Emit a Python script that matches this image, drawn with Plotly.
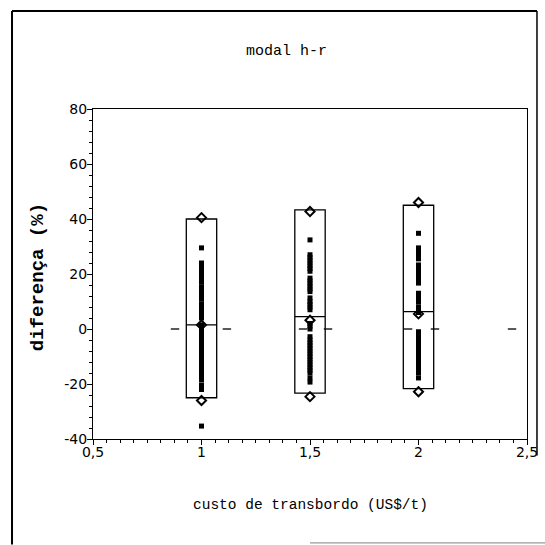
import plotly.graph_objects as go

# Transshipment cost (US$/t) for each group
custo = [1.0, 1.5, 2.0]

# Box limits per group (min..max) and medians, in %
box_low = [-25.0, -23.3, -21.7]
box_high = [40.0, 43.3, 45.0]
box_median = [1.5, 4.5, 6.3]

# Individual differences (%) per group
dif_1 = [29.5, 24, 23, 22, 21, 20, 19, 18, 17, 15.3, 14, 13, 12, 10.8,
         9, 8, 7, 6, 5, 4, 1.5, 0.5, 0, -1, -2, -3, -4, -5, -6, -7, -8,
         -9, -10, -11, -12, -13, -14, -15, -16, -17, -18.5, -20.4, -22,
         -35.3]
dif_15 = [32.4, 27, 26, 25, 24, 23, 22, 21, 18.5, 17.5, 16.5, 15.5, 14.5,
          13.6, 11.3, 10, 9, 8, 7, 2, 1, 0, -2.8, -4, -5, -6, -7, -8, -9,
          -10, -11, -12, -13, -14, -15, -16, -17.8, -19.3]
dif_2 = [34.8, 29.5, 28.5, 27.5, 26.5, 25.5, 23.3, 22.3, 21.3, 20.3, 19.3,
         18.3, 17.3, 16.7, 13, 12, 11, 9.8, 8, 7, 6, -1, -2, -3, -4, -5,
         -6, -7, -8, -9, -10, -11, -12, -13, -14, -15, -16, -17.8]

# Extremes and central value marked with diamonds
diam_1 = [40.5, 1.5, -26.0]
diam_15 = [42.7, 3.2, -24.6]
diam_2 = [46.0, 5.5, -22.8]

# Short marks along the zero reference
zero_marks_x = [0.878, 1.117, 1.468, 1.583, 1.952, 2.076, 2.431]

y_tick_vals = [-40, -20, 0, 20, 40, 60, 80]
y_tick_text = ["-40", "-20", "0", "20", "40", "60", "80"]

groups = [(custo[0], dif_1, diam_1), (custo[1], dif_15, diam_15),
          (custo[2], dif_2, diam_2)]

fig = go.Figure()

fig.add_trace(go.Box(
    x=custo, q1=box_low, q3=box_high, median=box_median,
    lowerfence=box_low, upperfence=box_high,
    width=0.14, whiskerwidth=0, boxpoints=False,
    fillcolor="rgba(0,0,0,0)", line=dict(color="black", width=1.3),
    showlegend=False, hoverinfo="skip",
))

for xv, vals, dvals in groups:
    fig.add_trace(go.Scatter(
        x=[xv] * len(vals), y=vals, mode="markers",
        marker=dict(symbol="square", size=5, color="black"),
        showlegend=False,
    ))
    fig.add_trace(go.Scatter(
        x=[xv] * len(dvals), y=dvals, mode="markers",
        marker=dict(symbol="diamond-open", size=7, color="black",
                    line=dict(width=2, color="black")),
        showlegend=False,
    ))

fig.add_trace(go.Scatter(
    x=zero_marks_x, y=[0] * len(zero_marks_x), mode="markers",
    marker=dict(symbol="line-ew", size=6,
                line=dict(width=1.3, color="black")),
    showlegend=False,
))

tick_font = dict(family="DejaVu Sans", size=14, color="black")
mono = "Liberation Mono"

fig.update_layout(
    width=545, height=545,
    margin=dict(l=93, r=18, t=109, b=106),
    paper_bgcolor="white", plot_bgcolor="white",
    separators=", ",
    showlegend=False,
    xaxis=dict(
        range=[0.5, 2.5], tick0=0.5, dtick=0.5, automargin=False,
        showgrid=False, zeroline=False,
        showline=True, linecolor="black", linewidth=1.3, mirror=True,
        ticks="outside", ticklen=5, tickwidth=1.2, tickcolor="black",
        ticklabelstandoff=-5,
        minor=dict(dtick=0.0625, tick0=0.5, ticks="outside", ticklen=3,
                   tickwidth=1, tickcolor="black", showgrid=False),
        tickfont=tick_font,
    ),
    yaxis=dict(
        range=[-40, 80], tickvals=y_tick_vals, ticktext=y_tick_text,
        automargin=False,
        showgrid=False, zeroline=False,
        showline=True, linecolor="black", linewidth=1.3, mirror=True,
        ticks="outside", ticklen=5, tickwidth=1.2, tickcolor="black",
        ticklabelstandoff=-3,
        minor=dict(dtick=4, tick0=0, ticks="outside", ticklen=3,
                   tickwidth=1, tickcolor="black", showgrid=False),
        tickfont=tick_font,
    ),
    annotations=[
        dict(text="modal h-r", xref="paper", yref="paper",
             x=0.445, y=1.173, xanchor="center", yanchor="middle",
             showarrow=False,
             font=dict(family=mono, size=15, color="black")),
        dict(text="custo de transbordo (US$/t)", xref="paper",
             yref="paper", x=0.5, y=-0.2, xanchor="center",
             yanchor="middle", showarrow=False,
             font=dict(family=mono, size=14.5, color="black")),
        dict(text="<b>diferença (%)</b>", xref="paper", yref="paper",
             x=-0.127, y=0.49, xanchor="center", yanchor="middle",
             showarrow=False, textangle=-90,
             font=dict(family=mono, size=19, color="black")),
    ],
    shapes=[
        # surrounding frame
        dict(type="line", xref="paper", yref="paper",
             x0=-0.1866, x1=-0.1866, y0=1.297, y1=-0.32,
             line=dict(color="black", width=2)),
        dict(type="line", xref="paper", yref="paper",
             x0=-0.1866, x1=1.023, y0=1.297, y1=1.297,
             line=dict(color="black", width=2)),
        dict(type="line", xref="paper", yref="paper",
             x0=1.023, x1=1.023, y0=1.297, y1=-0.05,
             line=dict(color="black", width=1.5)),
        dict(type="line", xref="paper", yref="paper",
             x0=0.5, x1=1.05, y0=-0.315, y1=-0.315,
             line=dict(color="#999999", width=1.2)),
    ],
)

fig.write_html("out.html")
